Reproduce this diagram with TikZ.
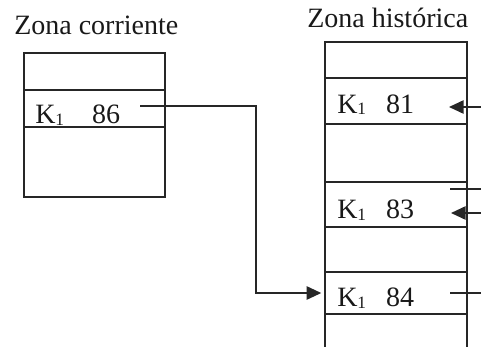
\documentclass[tikz,border=0pt]{standalone}
\usepackage{fontspec}
\setmainfont{Liberation Serif}
\usetikzlibrary{arrows.meta,fit}
\newcommand\kone{K\raisebox{-1.5pt}{\fontsize{13}{13}\selectfont 1}}
\begin{document}
\begin{tikzpicture}[x=0.75pt,y=-0.75pt,
  cell/.style={draw=black!85,line width=1.6pt,inner sep=0pt},
  ttl/.style={anchor=base west,inner sep=0pt,font=\fontsize{21}{24}\selectfont,text=black!90},
  lbl/.style={anchor=base west,inner sep=0pt,font=\fontsize{21}{24}\selectfont,text=black!90},
  conn/.style={line width=1.3pt,draw=black!85},
  arr/.style={conn,-{Triangle[length=11pt,width=10pt]}}]
\useasboundingbox (0,0) rectangle (481,346);
\clip (0,0) rectangle (481,346);
% titles
\node[ttl] (tc) at (14,35) {Zona corriente};
\node[ttl] (th) at (307,28) {Zona histórica};
% left box
\node[cell,fit={(24,53)(165,90)}] (c1) {};
\node[cell,fit={(24,90)(165,127)}] (c2) {};
\node[cell,fit={(24,127)(165,197)}] (c3) {};
% right box
\node[cell,fit={(325,42)(467,78)}] (h1) {};
\node[cell,fit={(325,78)(467,124)}] (h81) {};
\node[cell,fit={(325,124)(467,182)}] (h3) {};
\node[cell,fit={(325,182)(467,227)}] (h83) {};
\node[cell,fit={(325,227)(467,272)}] (h5) {};
\node[cell,fit={(325,272)(467,314)}] (h84) {};
\node[cell,fit={(325,314)(467,370)}] (h7) {};
% labels
\node[lbl] (k86) at (35,123) {\kone\hspace{21pt}86};
\node[lbl] (k81) at (337,113) {\kone\hspace{15pt}81};
\node[lbl] (k83) at (337,218) {\kone\hspace{15pt}83};
\node[lbl] (k84) at (337,306) {\kone\hspace{15pt}84};
% connector from current zone to historic zone
\coordinate (s86) at (140,106);
\coordinate (bend) at (256,106);
\draw[arr] (s86) -- (bend) |- ([xshift=-2pt]h84.west);
% pointers on the right
\coordinate (e81) at (495,107);
\coordinate (t81) at (449,107);
\draw[arr] (e81) -- (t81);
\coordinate (s83a) at (450,189);
\coordinate (e83a) at (495,189);
\draw[conn] (s83a) -- (e83a);
\coordinate (e83) at (495,213);
\coordinate (t83) at (451,213);
\draw[arr] (e83) -- (t83);
\coordinate (s84) at (450,293);
\coordinate (e84) at (495,293);
\draw[conn] (s84) -- (e84);
\end{tikzpicture}
\end{document}
